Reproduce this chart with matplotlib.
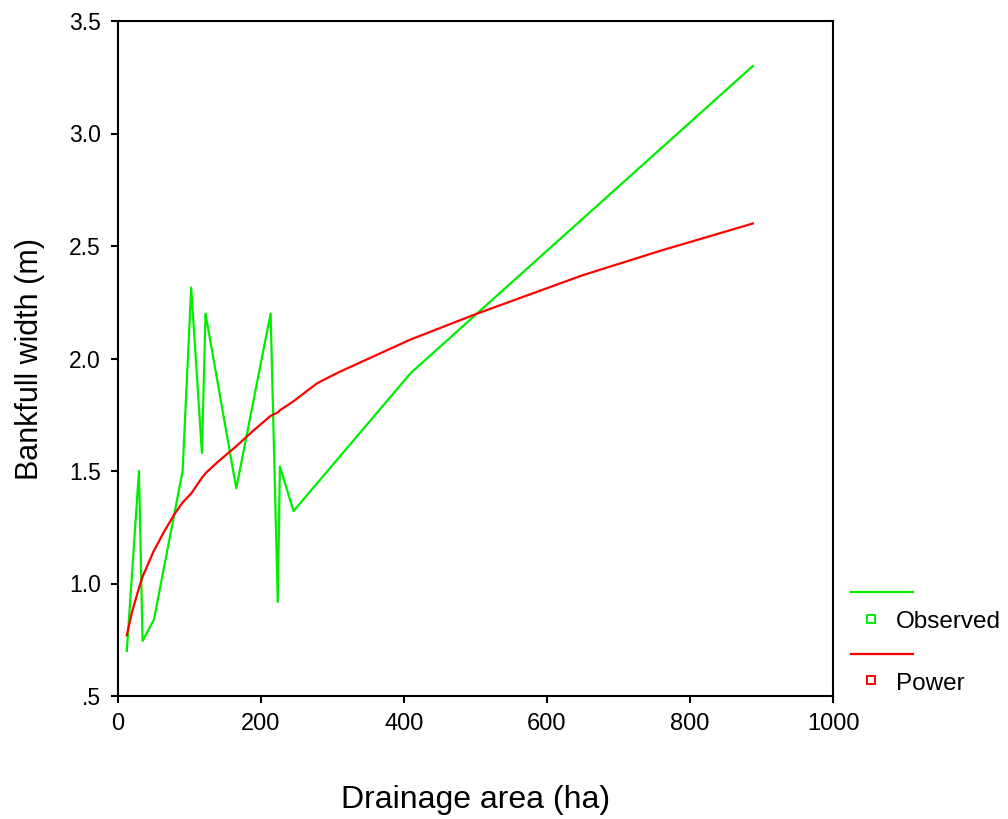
import matplotlib
matplotlib.use("Agg")
import matplotlib.pyplot as plt
from matplotlib.lines import Line2D

plt.rcParams['font.family'] = ['Liberation Sans', 'DejaVu Sans']

# Observed data (drainage area in ha, bankfull width in m)
obs_area = [13, 30, 35, 51, 91, 103, 118, 123, 166, 214, 224, 227, 246, 410, 888]
obs_width = [0.70, 1.50, 0.745, 0.84, 1.50, 2.315, 1.58, 2.20, 1.423, 2.20, 0.918, 1.52, 1.322, 1.936, 3.30]

# Power fit curve values
pow_area = [13, 20, 30, 35, 50, 65, 80, 91, 103, 118, 123, 140, 166, 190, 214, 224,
            227, 246, 279, 310, 410, 503, 650, 760, 888]
pow_width = [0.77, 0.87, 0.98, 1.03, 1.14, 1.23, 1.31, 1.36, 1.40, 1.47, 1.49, 1.54,
             1.61, 1.68, 1.745, 1.76, 1.77, 1.81, 1.89, 1.94, 2.085, 2.20, 2.37, 2.48, 2.60]

x_ticks = [0, 200, 400, 600, 800, 1000]
y_ticks = [0.5, 1.0, 1.5, 2.0, 2.5, 3.0, 3.5]
y_labels = ['.5', '1.0', '1.5', '2.0', '2.5', '3.0', '3.5']

GREEN = '#00ee00'
RED = '#ff0000'

fig = plt.figure(figsize=(10.08, 8.19), dpi=100)
ax = fig.add_axes([117.5 / 1008, 1 - 696 / 819, (833 - 117.5) / 1008, (696 - 21) / 819])

ax.plot(obs_area, obs_width, color=GREEN, lw=1.6)
ax.plot(pow_area, pow_width, color=RED, lw=1.6)

ax.set_xlim(0, 1000)
ax.set_ylim(0.5, 3.5)
ax.set_xticks(x_ticks)
ax.set_xticklabels([str(t) for t in x_ticks])
ax.set_yticks(y_ticks)
ax.set_yticklabels(y_labels)
ax.tick_params(direction='out', length=5, width=1.5, pad=6)
ax.tick_params(axis='x', labelsize=17, pad=7)
ax.tick_params(axis='y', labelsize=16.5, pad=7)
for s in ax.spines.values():
    s.set_linewidth(1.5)

ax.set_xlabel('Drainage area (ha)', fontsize=23, labelpad=36)
ax.set_ylabel('Bankfull width (m)', fontsize=22, labelpad=17)

# Legend drawn outside the axes on the right
W, H = 1008, 819
def fx(px):
    return px / W
def fy(py):
    return 1 - py / H

fig.add_artist(Line2D([fx(851), fx(913)], [fy(592), fy(592)], color=GREEN, lw=1.6))
fig.add_artist(Line2D([fx(871)], [fy(619)], marker='s', ms=6, mfc='white', mec=GREEN, mew=1.4, ls='none'))
fig.text(fx(896), fy(622), 'Observed', fontsize=17.5, va='center', ha='left')
fig.add_artist(Line2D([fx(851), fx(913)], [fy(654), fy(654)], color=RED, lw=1.6))
fig.add_artist(Line2D([fx(871)], [fy(680)], marker='s', ms=6, mfc='white', mec=RED, mew=1.4, ls='none'))
fig.text(fx(896), fy(684), 'Power', fontsize=17.5, va='center', ha='left')

fig.savefig('out.png', dpi=100)
